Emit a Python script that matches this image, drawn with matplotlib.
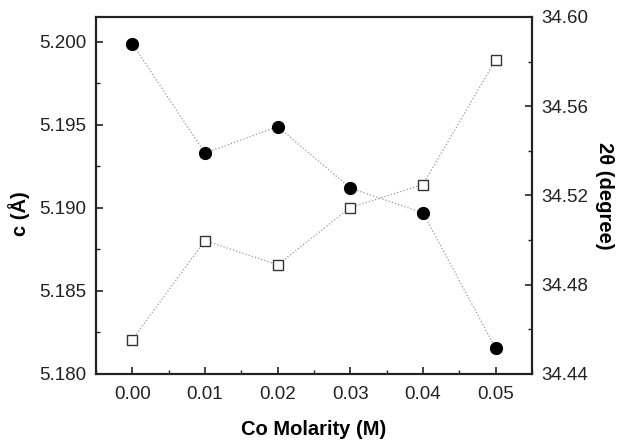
import matplotlib
matplotlib.use("Agg")
import matplotlib.pyplot as plt
from matplotlib.ticker import MultipleLocator

plt.rcParams['font.family'] = ['Liberation Sans', 'DejaVu Sans']

# data
molarity = [0.00, 0.01, 0.02, 0.03, 0.04, 0.05]
c_lattice = [5.1999, 5.1933, 5.1949, 5.1912, 5.1897, 5.18155]
two_theta = [34.4554, 34.4998, 34.4889, 34.5146, 34.5249, 34.5808]

fig = plt.figure(figsize=(6.18, 4.41), dpi=100)
ax = fig.add_axes([0.1553, 0.152, 0.7055, 0.8095])
ax2 = ax.twinx()

ax.plot(molarity, c_lattice, color='#999999', linestyle=':', linewidth=0.9, zorder=1)
ax.plot(molarity, c_lattice, 'o', color='black', markersize=8.5, zorder=3)
ax2.plot(molarity, two_theta, color='#999999', linestyle=':', linewidth=0.9, zorder=1)
ax2.plot(molarity, two_theta, 's', markerfacecolor='white', markeredgecolor='#333333',
         markeredgewidth=1.0, markersize=7, zorder=3)

ax.set_xlim(-0.005, 0.055)
ax.set_ylim(5.180, 5.2015)
ax2.set_ylim(34.44, 34.60)

ax.xaxis.set_major_locator(MultipleLocator(0.01))
ax.xaxis.set_minor_locator(MultipleLocator(0.005))
ax.yaxis.set_major_locator(MultipleLocator(0.005))
ax.yaxis.set_minor_locator(MultipleLocator(0.0025))
ax2.yaxis.set_major_locator(MultipleLocator(0.04))
ax2.yaxis.set_minor_locator(MultipleLocator(0.02))
ax.xaxis.set_major_formatter(plt.FormatStrFormatter('%.2f'))
ax.yaxis.set_major_formatter(plt.FormatStrFormatter('%.3f'))
ax2.yaxis.set_major_formatter(plt.FormatStrFormatter('%.2f'))

ax.tick_params(axis='both', which='both', direction='in', top=False, right=False,
               labelsize=13.5, colors='#222222')
ax.tick_params(axis='x', pad=9)
ax.tick_params(axis='y', pad=7)
ax.tick_params(which='major', length=5, width=1.2)
ax.tick_params(which='minor', length=3, width=1.0)
ax2.tick_params(axis='y', which='both', direction='in', labelsize=13.5, colors='#222222', pad=7)
ax2.tick_params(which='major', length=5, width=1.2)
ax2.tick_params(which='minor', length=3, width=1.0)

for a in (ax, ax2):
    for s in a.spines.values():
        s.set_linewidth(1.5)
        s.set_color('#222222')

ax.set_xlabel('Co Molarity (M)', fontsize=14.5, fontweight='bold')
ax.xaxis.set_label_coords(0.5, -0.128)
ax.set_ylabel('c (Å)', fontsize=14.5, fontweight='bold')
ax.yaxis.set_label_coords(-0.151, 0.448)
ax2.set_ylabel('2θ (degree)', fontsize=14.5, fontweight='bold', rotation=270, labelpad=18)

fig.savefig('out.png', dpi=100)
